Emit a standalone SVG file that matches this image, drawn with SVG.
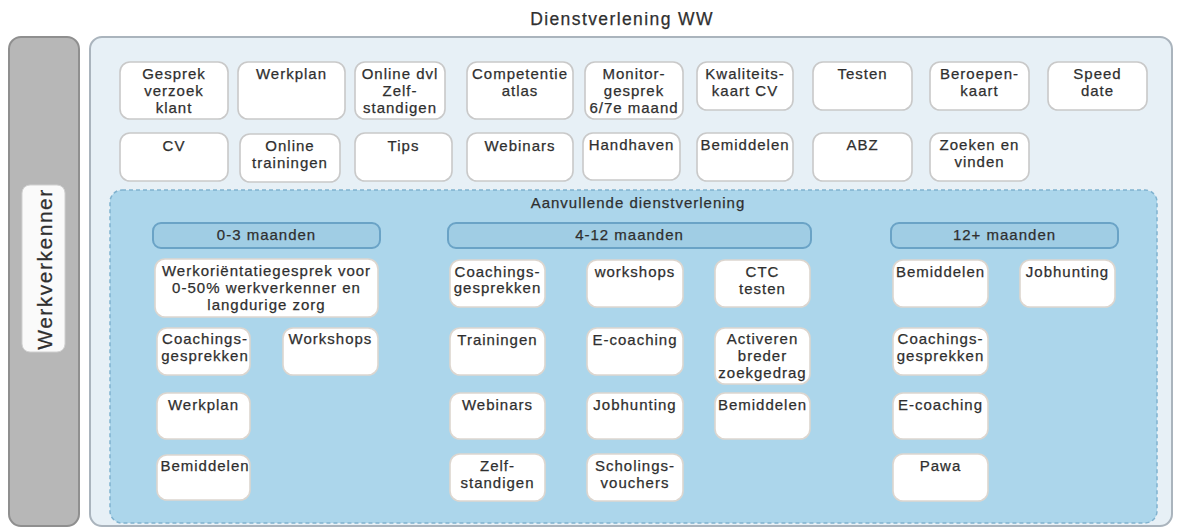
<svg xmlns="http://www.w3.org/2000/svg" width="1177" height="528" viewBox="0 0 1177 528">
<style>
text{font-family:"Liberation Sans",Arial,sans-serif;fill:#2f2f2f;stroke:#2f2f2f;stroke-width:0.25;}
.t{font-size:15px;letter-spacing:1px;text-anchor:middle;}
.box{fill:#fff;stroke:#c9c9c9;stroke-width:1.6;}
.ibox{fill:#fff;stroke:#ddd6cf;stroke-width:1.6;}
.hdr{fill:#a0cde4;stroke:#6aa3c6;stroke-width:2;}
</style>
<rect width="1177" height="528" fill="#fff"/>
<text x="622" y="25" style="font-size:17.5px;letter-spacing:1.4px;text-anchor:middle">Dienstverlening WW</text>

<g id="werkverkenner">
<rect x="9" y="37" width="70" height="489" rx="12" fill="#b7b7b7" stroke="#8f8f8f" stroke-width="2"/>
<rect x="22" y="185" width="43" height="167" rx="8" fill="#fafafa" stroke="#d0d0d0" stroke-width="1"/>
<text transform="translate(44,269) rotate(-90)" y="7.5" style="font-size:21px;letter-spacing:1.5px;text-anchor:middle">Werkverkenner</text>
</g>

<g id="dienstverlening-ww">
<rect x="90" y="37" width="1082" height="489" rx="12" fill="#e7f0f6" stroke="#aab4bd" stroke-width="2"/>
</g>

<g id="top-row">
<g id="n-gesprek"><rect class="box" x="120" y="62" width="108" height="57" rx="10"/><text class="t" x="174" y="79">Gesprek</text><text class="t" x="174" y="96">verzoek</text><text class="t" x="174" y="113">klant</text></g>
<g id="n-werkplan"><rect class="box" x="238" y="62" width="107" height="57" rx="10"/><text class="t" x="291.5" y="79">Werkplan</text></g>
<g id="n-online-dvl"><rect class="box" x="355" y="62" width="90" height="57" rx="10"/><text class="t" x="400" y="79">Online dvl</text><text class="t" x="400" y="96">Zelf-</text><text class="t" x="400" y="113">standigen</text></g>
<g id="n-competentie"><rect class="box" x="467" y="62" width="106" height="57" rx="10"/><text class="t" x="520" y="79">Competentie</text><text class="t" x="520" y="96">atlas</text></g>
<g id="n-monitor"><rect class="box" x="585" y="62" width="98" height="57" rx="10"/><text class="t" x="634" y="79">Monitor-</text><text class="t" x="634" y="96">gesprek</text><text class="t" x="634" y="113">6/7e maand</text></g>
<g id="n-kwaliteits"><rect class="box" x="697" y="62" width="96" height="48" rx="10"/><text class="t" x="745" y="79">Kwaliteits-</text><text class="t" x="745" y="96">kaart CV</text></g>
<g id="n-testen"><rect class="box" x="813" y="62" width="99" height="48" rx="10"/><text class="t" x="862.5" y="79">Testen</text></g>
<g id="n-beroepen"><rect class="box" x="930" y="62" width="99" height="48" rx="10"/><text class="t" x="979.5" y="79">Beroepen-</text><text class="t" x="979.5" y="96">kaart</text></g>
<g id="n-speed"><rect class="box" x="1048" y="62" width="99" height="48" rx="10"/><text class="t" x="1097.5" y="79">Speed</text><text class="t" x="1097.5" y="96">date</text></g>

<g id="n-cv"><rect class="box" x="120" y="133" width="108" height="48" rx="10"/><text class="t" x="174" y="151">CV</text></g>
<g id="n-online-trainingen"><rect class="box" x="240" y="134" width="100" height="48" rx="10"/><text class="t" x="290" y="151">Online</text><text class="t" x="290" y="168">trainingen</text></g>
<g id="n-tips"><rect class="box" x="355" y="133" width="97" height="48" rx="10"/><text class="t" x="403.5" y="151">Tips</text></g>
<g id="n-webinars"><rect class="box" x="467" y="133" width="106" height="48" rx="10"/><text class="t" x="520" y="151">Webinars</text></g>
<g id="n-handhaven"><rect class="box" x="583" y="133" width="97" height="47" rx="10"/><text class="t" x="631.5" y="150">Handhaven</text></g>
<g id="n-bemiddelen-top"><rect class="box" x="697" y="133" width="96" height="48" rx="10"/><text class="t" x="745" y="150">Bemiddelen</text></g>
<g id="n-abz"><rect class="box" x="813" y="133" width="99" height="48" rx="10"/><text class="t" x="862.5" y="150">ABZ</text></g>
<g id="n-zoeken"><rect class="box" x="930" y="133" width="99" height="48" rx="10"/><text class="t" x="979.5" y="150">Zoeken en</text><text class="t" x="979.5" y="167">vinden</text></g>
</g>

<g id="aanvullende">
<rect x="110" y="190" width="1047" height="333" rx="12" fill="#acd6eb" stroke="#80b2cf" stroke-width="1.5" stroke-dasharray="4 3"/>
<text class="t" x="638" y="208">Aanvullende dienstverlening</text>
</g>

<g id="col-0-3">
<rect class="hdr" x="153" y="223" width="227" height="25" rx="8"/><text class="t" x="266.5" y="240">0-3 maanden</text>
<g id="n-werkorientatie"><rect class="ibox" x="155" y="259" width="223" height="58" rx="10"/><text class="t" x="266.5" y="276">Werkoriëntatiegesprek voor</text><text class="t" x="266.5" y="293">0-50% werkverkenner en</text><text class="t" x="266.5" y="310">langdurige zorg</text></g>
<g id="n-coaching-03"><rect class="ibox" x="157" y="328" width="93" height="47" rx="10"/><text class="t" x="205" y="344">Coachings-</text><text class="t" x="205" y="361">gesprekken</text></g>
<g id="n-workshops-03"><rect class="ibox" x="283" y="328" width="95" height="47" rx="10"/><text class="t" x="330.5" y="344">Workshops</text></g>
<g id="n-werkplan-03"><rect class="ibox" x="157" y="393" width="93" height="46" rx="10"/><text class="t" x="203.5" y="410">Werkplan</text></g>
<g id="n-bemiddelen-03"><rect class="ibox" x="157" y="455" width="93" height="45" rx="10"/><text class="t" x="205" y="471">Bemiddelen</text></g>
</g>

<g id="col-4-12">
<rect class="hdr" x="448" y="223" width="363" height="25" rx="8"/><text class="t" x="629.5" y="240">4-12 maanden</text>
<g id="n-coaching-412"><rect class="ibox" x="450" y="260" width="95" height="47" rx="10"/><text class="t" x="497.5" y="277">Coachings-</text><text class="t" x="497.5" y="293">gesprekken</text></g>
<g id="n-workshops-412"><rect class="ibox" x="587" y="260" width="96" height="47" rx="10"/><text class="t" x="635" y="277">workshops</text></g>
<g id="n-ctc"><rect class="ibox" x="715" y="260" width="95" height="47" rx="10"/><text class="t" x="762.5" y="277">CTC</text><text class="t" x="762.5" y="294">testen</text></g>
<g id="n-trainingen"><rect class="ibox" x="450" y="328" width="95" height="47" rx="10"/><text class="t" x="497.5" y="345">Trainingen</text></g>
<g id="n-ecoaching-412"><rect class="ibox" x="587" y="328" width="96" height="47" rx="10"/><text class="t" x="635" y="345">E-coaching</text></g>
<g id="n-activeren"><rect class="ibox" x="715" y="328" width="95" height="56" rx="10"/><text class="t" x="762.5" y="344">Activeren</text><text class="t" x="762.5" y="361">breder</text><text class="t" x="762.5" y="378">zoekgedrag</text></g>
<g id="n-webinars-412"><rect class="ibox" x="450" y="393" width="95" height="46" rx="10"/><text class="t" x="497.5" y="410">Webinars</text></g>
<g id="n-jobhunting-412"><rect class="ibox" x="587" y="393" width="96" height="46" rx="10"/><text class="t" x="635" y="410">Jobhunting</text></g>
<g id="n-bemiddelen-412"><rect class="ibox" x="715" y="393" width="95" height="46" rx="10"/><text class="t" x="762.5" y="410">Bemiddelen</text></g>
<g id="n-zelfstandigen"><rect class="ibox" x="450" y="454" width="95" height="47" rx="10"/><text class="t" x="497.5" y="471">Zelf-</text><text class="t" x="497.5" y="488">standigen</text></g>
<g id="n-scholings"><rect class="ibox" x="587" y="454" width="96" height="47" rx="10"/><text class="t" x="635" y="471">Scholings-</text><text class="t" x="635" y="488">vouchers</text></g>
</g>

<g id="col-12plus">
<rect class="hdr" x="891" y="223" width="227" height="25" rx="8"/><text class="t" x="1004.5" y="240">12+ maanden</text>
<g id="n-bemiddelen-12"><rect class="ibox" x="893" y="260" width="95" height="47" rx="10"/><text class="t" x="940.5" y="277">Bemiddelen</text></g>
<g id="n-jobhunting-12"><rect class="ibox" x="1020" y="260" width="95" height="47" rx="10"/><text class="t" x="1067.5" y="277">Jobhunting</text></g>
<g id="n-coaching-12"><rect class="ibox" x="893" y="328" width="95" height="47" rx="10"/><text class="t" x="940.5" y="344">Coachings-</text><text class="t" x="940.5" y="361">gesprekken</text></g>
<g id="n-ecoaching-12"><rect class="ibox" x="893" y="393" width="95" height="46" rx="10"/><text class="t" x="940.5" y="410">E-coaching</text></g>
<g id="n-pawa"><rect class="ibox" x="893" y="454" width="95" height="47" rx="10"/><text class="t" x="940.5" y="471">Pawa</text></g>
</g>

<g id="connectors"></g>
</svg>
